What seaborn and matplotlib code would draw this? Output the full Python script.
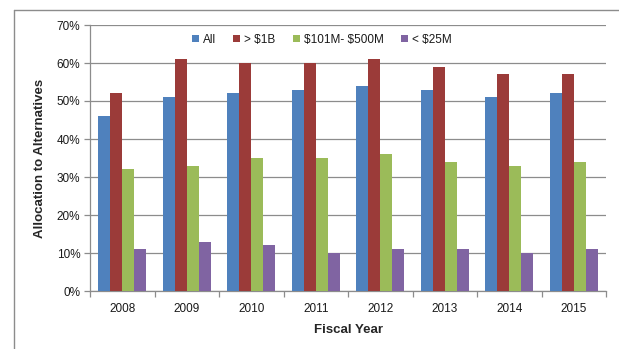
import matplotlib
matplotlib.use("Agg")
import matplotlib.pyplot as plt
from matplotlib.lines import Line2D
from matplotlib.patches import Patch
from matplotlib.ticker import FuncFormatter, MultipleLocator, FixedLocator
import seaborn as sns
import pandas as pd

years = ["2008", "2009", "2010", "2011", "2012", "2013", "2014", "2015"]
series_names = ["All", "> $1B", "$101M- $500M", "< $25M"]
all_vals = [46, 51, 52, 53, 54, 53, 51, 52]
over_1b = [52, 61, 60, 60, 61, 59, 57, 57]
mid_101_500 = [32, 33, 35, 35, 36, 34, 33, 34]
under_25m = [11, 13, 12, 10, 11, 11, 10, 11]
colors = ["#4F81BD", "#9B3B39", "#9BBB59", "#8064A2"]

rows = []
for name, vals in zip(series_names, [all_vals, over_1b, mid_101_500, under_25m]):
    for y, v in zip(years, vals):
        rows.append({"Year": y, "Series": name, "Value": v / 100})
df = pd.DataFrame(rows)

sns.set_style("white")
plt.rcParams["font.family"] = ["Liberation Sans", "DejaVu Sans"]
plt.rcParams["text.parse_math"] = False
plt.rcParams["text.color"] = "#1A1A1A"

fig = plt.figure(figsize=(6.19, 3.49), dpi=100)
ax = fig.add_axes([90 / 619, 58 / 349, 516 / 619, 266 / 349])

sns.barplot(data=df, x="Year", y="Value", hue="Series", palette=colors,
            width=0.75, ax=ax, legend=False, saturation=1, linewidth=0,
            edgecolor="none", zorder=3)

ax.set_ylim(0, 0.70)
ax.set_xlim(-0.5, 7.5)
ax.yaxis.set_major_locator(MultipleLocator(0.10))
ax.yaxis.set_major_formatter(FuncFormatter(lambda v, p: f"{int(round(v * 100))}%"))
ax.grid(axis="y", color="#8C8C8C", linewidth=0.9, zorder=0)
ax.set_axisbelow(True)

for s in ["top", "right"]:
    ax.spines[s].set_visible(False)
for s in ["left", "bottom"]:
    ax.spines[s].set_color("#8C8C8C")
    ax.spines[s].set_linewidth(0.9)

ax.tick_params(axis="y", which="major", direction="out", length=4, width=0.9,
               color="#8C8C8C", labelsize=8.5, pad=3, left=True, labelcolor="#1A1A1A")
ax.tick_params(axis="x", which="major", length=0, labelsize=8.5, pad=9, labelcolor="#1A1A1A")
ax.xaxis.set_minor_locator(FixedLocator([i - 0.5 for i in range(9)]))
ax.tick_params(axis="x", which="minor", direction="out", length=4, width=0.9,
               color="#8C8C8C", bottom=True)

ax.set_xlabel("Fiscal Year", fontsize=9.5, fontweight="bold", labelpad=6)
ax.set_ylabel("Allocation to Alternatives", fontsize=9.5, fontweight="bold", labelpad=8)

handles = [Patch(facecolor=c, edgecolor="none") for c in colors]
leg = ax.legend(handles, series_names, loc="center", bbox_to_anchor=(0.449, 0.944),
                ncol=4, frameon=False, fontsize=8.5, handlelength=0.6, handleheight=0.6,
                handletextpad=0.3, columnspacing=1.5, borderaxespad=0)

# chart-area border (left and top visible)
fig.add_artist(Line2D([14 / 619, 14 / 619], [0, 1 - 10 / 349], transform=fig.transFigure,
                      color="#8C8C8C", linewidth=1))
fig.add_artist(Line2D([14 / 619, 1], [1 - 10 / 349, 1 - 10 / 349], transform=fig.transFigure,
                      color="#8C8C8C", linewidth=1))

fig.savefig("out.png", dpi=100)
